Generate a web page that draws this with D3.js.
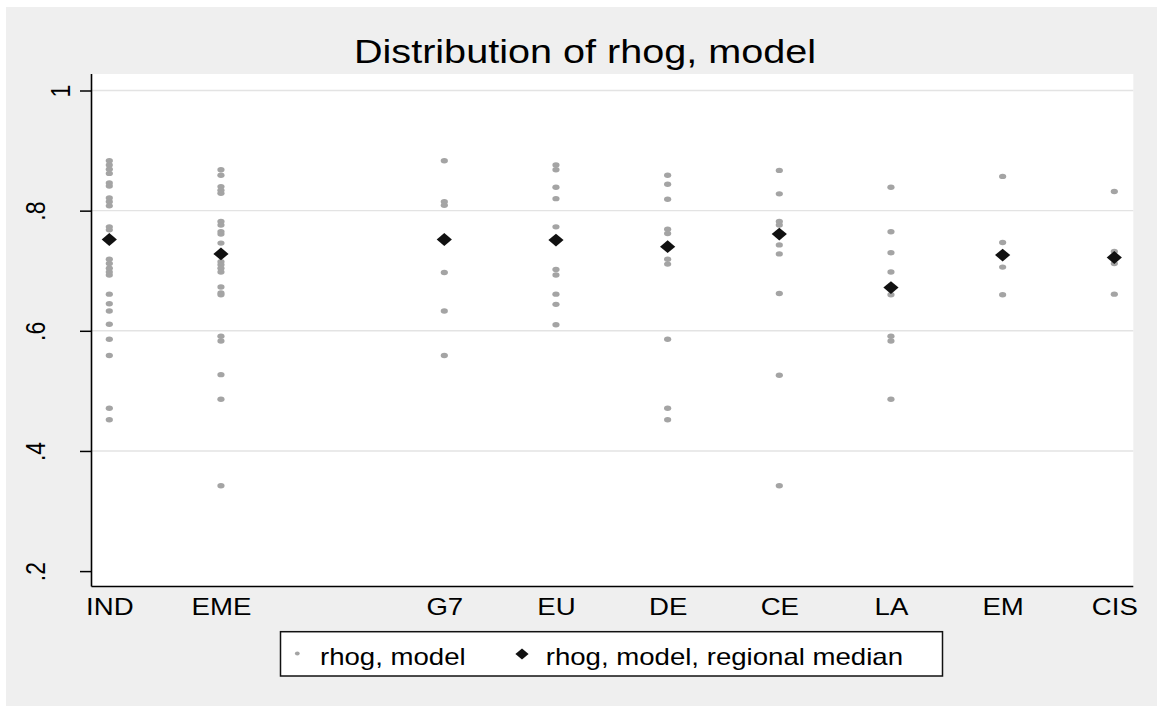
<!DOCTYPE html>
<html>
<head>
<meta charset="utf-8">
<script src="https://cdn.jsdelivr.net/npm/d3@7"></script>
<style>
  html, body { margin: 0; padding: 0; background: #fff; }
  svg { display: block; }
  text { font-family: "Liberation Sans", Arial, Helvetica, sans-serif; fill: #000; }
</style>
</head>
<body>
<svg id="chart" width="1157" height="706"></svg>
<script>
// Region groups shown along the x axis (slot 3 is left empty on purpose)
const categories = ["IND", "EME", "G7", "EU", "DE", "CE", "LA", "EM", "CIS"];
const slots = [1, 2, 4, 5, 6, 7, 8, 9, 10];

// rhog, model: one value per country, grouped by region
const rhogIND = [0.883, 0.876, 0.869, 0.862, 0.846, 0.841, 0.821, 0.815, 0.808, 0.773, 0.768,
                 0.719, 0.712, 0.704, 0.698, 0.693, 0.661, 0.645, 0.633, 0.611, 0.586, 0.559, 0.471, 0.452];
const rhogEME = [0.868, 0.859, 0.840, 0.834, 0.829, 0.782, 0.776, 0.765, 0.761, 0.746, 0.715,
                 0.710, 0.704, 0.698, 0.673, 0.663, 0.660, 0.591, 0.583, 0.527, 0.486, 0.342];
const rhogG7  = [0.883, 0.815, 0.809, 0.697, 0.633, 0.559];
const rhogEU  = [0.876, 0.868, 0.839, 0.820, 0.773, 0.702, 0.693, 0.661, 0.644, 0.610];
const rhogDE  = [0.859, 0.844, 0.819, 0.769, 0.762, 0.719, 0.711, 0.586, 0.471, 0.452];
const rhogCE  = [0.867, 0.828, 0.782, 0.776, 0.743, 0.728, 0.662, 0.526, 0.342];
const rhogLA  = [0.839, 0.765, 0.730, 0.698, 0.660, 0.591, 0.583, 0.486];
const rhogEM  = [0.857, 0.747, 0.706, 0.660];
const rhogCIS = [0.832, 0.732, 0.712, 0.661];

// rhog, model, regional median
const regionalMedian = [0.752, 0.728, 0.752, 0.751, 0.740, 0.761, 0.672, 0.726, 0.722];

// y axis ticks
const yTicks = [0.2, 0.4, 0.6, 0.8, 1];
const yTickLabels = [".2", ".4", ".6", ".8", "1"];

const groupValues = [rhogIND, rhogEME, rhogG7, rhogEU, rhogDE, rhogCE, rhogLA, rhogEM, rhogCIS];
const points = [];
groupValues.forEach((vals, i) => vals.forEach(v => points.push({ slot: slots[i], value: v })));
const medians = regionalMedian.map((v, i) => ({ slot: slots[i], value: v }));

const W = 1157, H = 706;
const stretch = 1.2;              // horizontal stretch applied to text and markers
const plot = { left: 91.5, right: 1133.3, top: 74, bottom: 586.5 };

const svg = d3.select("#chart");

// backgrounds
svg.append("rect").attr("width", W).attr("height", H).attr("fill", "#ffffff");
svg.append("rect").attr("x", 6).attr("y", 7).attr("width", W - 6).attr("height", H - 7).attr("fill", "#efefef");
svg.append("rect")
  .attr("x", plot.left).attr("y", plot.top)
  .attr("width", plot.right - plot.left).attr("height", plot.bottom - plot.top)
  .attr("fill", "#ffffff");

const x = d3.scaleLinear().domain([1, 10]).range([109.3, 1114.3]);
const y = d3.scaleLinear().domain([0.2, 1]).range([571.1, 90.5]);

// horizontal grid lines
svg.append("g").selectAll("line")
  .data(yTicks.filter(t => t > yTicks[0]))
  .join("line")
  .attr("x1", plot.left).attr("x2", plot.right)
  .attr("y1", d => y(d)).attr("y2", d => y(d))
  .attr("stroke", "#e3e3e3").attr("stroke-width", 1.4);

// y axis
const yAxis = svg.append("g")
  .attr("transform", `translate(${plot.left},0)`)
  .call(d3.axisLeft(y).tickValues(yTicks).tickSize(11.5)
        .tickFormat((d, i) => yTickLabels[i]));
yAxis.select(".domain").remove();
yAxis.selectAll(".tick line").attr("stroke", "#000").attr("stroke-width", 1.5);
yAxis.selectAll(".tick text")
  .attr("x", null).attr("dy", null)
  .attr("text-anchor", "middle")
  .style("font-size", "23px")
  .attr("transform", (d, i) => {
    const bx = -21.5 - 25 * (yTickLabels[i].length - 1);
    return `translate(${bx},0) scale(${stretch},1) rotate(-90)`;
  });
svg.append("line")
  .attr("x1", plot.left).attr("x2", plot.left)
  .attr("y1", plot.top).attr("y2", plot.bottom)
  .attr("stroke", "#000").attr("stroke-width", 1.6);

// x axis
const xAxis = svg.append("g")
  .attr("transform", `translate(0,${plot.bottom})`)
  .call(d3.axisBottom(x).tickValues(slots).tickSize(0)
        .tickFormat((d, i) => categories[i]));
xAxis.select(".domain").remove();
xAxis.selectAll(".tick text")
  .attr("y", null).attr("dy", null)
  .style("font-size", "23px")
  .attr("transform", `translate(0,28.5) scale(${stretch},1)`);
svg.append("line")
  .attr("x1", plot.left).attr("x2", plot.right)
  .attr("y1", plot.bottom).attr("y2", plot.bottom)
  .attr("stroke", "#000").attr("stroke-width", 1.6);

// country points
svg.append("g").selectAll("ellipse")
  .data(points)
  .join("ellipse")
  .attr("cx", d => x(d.slot)).attr("cy", d => y(d.value))
  .attr("rx", 3.6).attr("ry", 2.7)
  .attr("fill", "#a4a4a4");

// regional medians
const diamond = (cx, cy, hw, hh) =>
  `M${cx},${cy - hh}L${cx + hw},${cy}L${cx},${cy + hh}L${cx - hw},${cy}Z`;
svg.append("g").selectAll("path")
  .data(medians)
  .join("path")
  .attr("d", d => diamond(x(d.slot), y(d.value), 7.6, 6.4))
  .attr("fill", "#111");

// title
svg.append("text")
  .attr("transform", `translate(585,63.3) scale(${stretch},1)`)
  .attr("text-anchor", "middle")
  .style("font-size", "33px")
  .text("Distribution of rhog, model");

// legend
const legend = svg.append("g");
legend.append("rect")
  .attr("x", 280.5).attr("y", 631.7).attr("width", 662).attr("height", 44.3)
  .attr("fill", "#fff").attr("stroke", "#111").attr("stroke-width", 1.5);
legend.append("ellipse")
  .attr("cx", 297.3).attr("cy", 653.5).attr("rx", 2.4).attr("ry", 1.9)
  .attr("fill", "#a4a4a4");
legend.append("text")
  .attr("transform", `translate(320,664.5) scale(${stretch},1)`)
  .style("font-size", "23px")
  .text("rhog, model");
legend.append("path")
  .attr("d", diamond(522, 654, 6.6, 5.5))
  .attr("fill", "#111");
legend.append("text")
  .attr("transform", `translate(545.7,664.5) scale(${stretch},1)`)
  .style("font-size", "23px")
  .text("rhog, model, regional median");
</script>
</body>
</html>
